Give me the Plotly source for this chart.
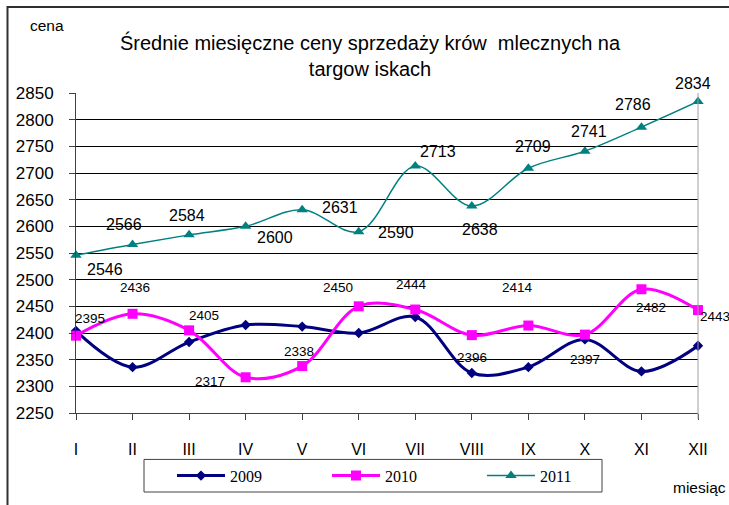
import plotly.graph_objects as go

months = ["I", "II", "III", "IV", "V", "VI", "VII", "VIII", "IX", "X", "XI", "XII"]
y2009 = [2404, 2336, 2383, 2415, 2412, 2400, 2430, 2325, 2336, 2388, 2328, 2376]
y2010 = [2395, 2436, 2405, 2317, 2338, 2450, 2444, 2396, 2414, 2397, 2482, 2443]
y2011 = [2546, 2566, 2584, 2600, 2631, 2590, 2713, 2638, 2709, 2741, 2786, 2834]
y_ticks = list(range(2250, 2851, 50))

# label offsets (pixels: dx right, dy down) - style only
off2010 = [(14, -17), (2, -26), (15, -15), (-36, 4), (-3, -15), (-21, -19),
           (-4, -25), (0, 22), (-11, -38), (0, 25), (10, 18), (17, 6)]
off2011 = [(29, 14), (-9, -20), (-2, -19), (29, 11), (38, -2), (37, 1),
           (23, -15), (8, 23), (5, -22), (4, -20), (-8, -23), (-5, -18)]

FONT = "Liberation Sans, Arial, sans-serif"

fig = go.Figure()
fig.add_trace(go.Scatter(x=months, y=y2009, name="2009", mode="lines+markers",
                         line=dict(color="#000080", width=3, shape="spline", smoothing=1),
                         marker=dict(symbol="diamond", size=8, color="#000080"),
                         cliponaxis=False))
fig.add_trace(go.Scatter(x=months, y=y2010, name="2010", mode="lines+markers",
                         line=dict(color="#FF00FF", width=3, shape="spline", smoothing=1),
                         marker=dict(symbol="square", size=10, color="#FF00FF"),
                         cliponaxis=False))
fig.add_trace(go.Scatter(x=months, y=y2011, name="2011", mode="lines+markers",
                         line=dict(color="#008080", width=1.5, shape="spline", smoothing=1),
                         marker=dict(symbol="triangle-up", size=10, color="#008080"),
                         cliponaxis=False))

ann = []
for m, v, (dx, dy) in zip(months, y2010, off2010):
    ann.append(dict(x=m, y=v, xref="x", yref="y", text=str(v), showarrow=False,
                    xanchor="center", yanchor="middle",
                    xshift=dx, yshift=-dy, font=dict(family=FONT, size=13.5, color="black")))
for m, v, (dx, dy) in zip(months, y2011, off2011):
    ann.append(dict(x=m, y=v, xref="x", yref="y", text=str(v), showarrow=False,
                    xanchor="center", yanchor="middle",
                    xshift=dx, yshift=-dy, font=dict(family=FONT, size=16, color="black")))

W, H = 729, 505
L, R, T, B = 76, 31, 93, 88
pw, ph = W - L - R, H - T - B


def px(x):  # page pixel -> paper
    return (x - L) / pw


def py(y):
    return (H - B - y) / ph


ann.append(dict(x=px(46.5), y=py(25), xref="paper", yref="paper", text="cena",
                showarrow=False, xanchor="center", yanchor="middle",
                font=dict(family=FONT, size=15.5, color="black")))
ann.append(dict(x=px(671), y=py(492), xref="paper", yref="paper", text="miesiąc",
                showarrow=False, xanchor="left", yanchor="middle",
                font=dict(family=FONT, size=15.5, color="black")))

shapes = [
    dict(type="path", xref="paper", yref="paper",
         path=f"M {px(7.5)} {py(520)} L {px(7.5)} {py(6)} L {px(740)} {py(6)}",
         line=dict(color="#303030", width=2)),
    dict(type="line", xref="paper", yref="paper", x0=1, x1=1, y0=py(423), y1=1,
         line=dict(color="#a0a0a0", width=1)),
    dict(type="rect", xref="paper", yref="paper", x0=px(144), x1=px(602),
         y0=py(464), y1=py(497), line=dict(color="#404040", width=1)),
]

fig.update_layout(
    width=W, height=H, autosize=False,
    margin=dict(l=L, r=R, t=T, b=B),
    paper_bgcolor="white", plot_bgcolor="white",
    font=dict(family=FONT, color="black"),
    title=dict(text="Średnie miesięczne ceny sprzedaży krów  mlecznych na<br>targow iskach",
               x=370 / W, xanchor="center", y=1 - 50 / H, yanchor="middle",
               yref="container", font=dict(family=FONT, size=20, color="black")),
    xaxis=dict(type="category", categoryorder="array", categoryarray=months,
               range=[0, 11], showline=True, linecolor="#404040", linewidth=1,
               ticks="outside", ticklen=6, tickcolor="#404040", showgrid=False,
               tickfont=dict(family=FONT, size=16, color="black"), ticklabelstandoff=16),
    yaxis=dict(range=[2250, 2850], tickvals=y_ticks, showgrid=True, gridcolor="#000000",
               gridwidth=1, showline=True, linecolor="#404040", linewidth=1,
               ticks="outside", ticklen=6, tickcolor="#404040", zeroline=False,
               tickfont=dict(family=FONT, size=17, color="black"), ticklabelstandoff=12),
    legend=dict(orientation="h", x=px(172), y=py(480.5), xanchor="left", yanchor="middle",
                xref="paper", yref="paper", bgcolor="rgba(0,0,0,0)", borderwidth=0,
                font=dict(family="Liberation Serif, Times New Roman, serif", size=16, color="black"),
                itemwidth=48, entrywidth=92, entrywidthmode="pixels"),
    annotations=ann, shapes=shapes,
)

fig.write_html("out.html", config={"displayModeBar": False},
               post_script="document.body.style.margin='0';document.body.style.overflow='hidden';")
